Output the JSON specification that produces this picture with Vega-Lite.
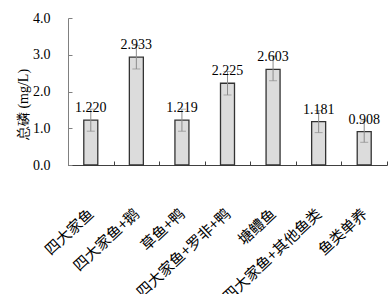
{
  "$schema": "https://vega.github.io/schema/vega-lite/v6.json",
  "width": 319,
  "height": 147,
  "autosize": "none",
  "padding": {"left": 68, "top": 18, "right": 5, "bottom": 129},
  "background": "white",
  "config": {"view": {"stroke": null}, "font": "Times New Roman, Liberation Serif, serif"},
  "data": {"values": [
    {"group": "四大家鱼", "value": 1.220, "lo": 0.92, "hi": 1.52},
    {"group": "四大家鱼+鹅", "value": 2.933, "lo": 2.613, "hi": 3.253},
    {"group": "草鱼+鸭", "value": 1.219, "lo": 0.919, "hi": 1.519},
    {"group": "四大家鱼+罗非+鸭", "value": 2.225, "lo": 1.905, "hi": 2.545},
    {"group": "塘鳢鱼", "value": 2.603, "lo": 2.293, "hi": 2.963},
    {"group": "四大家鱼+其他鱼类", "value": 1.181, "lo": 0.881, "hi": 1.481},
    {"group": "鱼类单养", "value": 0.908, "lo": 0.618, "hi": 1.198}
  ]},
  "encoding": {
    "x": {"field": "group", "type": "nominal", "sort": null,
      "scale": {"paddingInner": 0, "paddingOuter": 0},
      "axis": {"title": null, "tickBand": "extent", "labelAngle": -43, "labelAlign": "right", "labelBaseline": "middle",
        "tickSize": -4, "labelPadding": 50, "domainColor": "#404040", "tickColor": "#404040",
        "labelFont": "Noto Sans CJK SC", "labelFontSize": 15, "labelColor": "black", "labelOverlap": false}},
    "y": {"field": "value", "type": "quantitative", "scale": {"domain": [0, 4], "nice": false, "zero": true},
      "axis": {"title": "总磷 (mg/L)", "values": [0, 1, 2, 3, 4], "format": ".1f", "titleX": -38, "titleY": 86,
        "labelFont": "Times New Roman, Liberation Serif, serif", "labelFontSize": 14, "labelColor": "black",
        "labelOverlap": false, "labelSeparation": 0, "grid": false,
        "tickSize": -4, "labelPadding": 22, "domainColor": "#808080", "tickColor": "#808080",
        "titleFont": "Times New Roman, Liberation Serif, serif", "titleFontSize": 14, "titleFontWeight": "normal", "titleColor": "black"}}
  },
  "layer": [
    {"mark": {"type": "bar", "size": 14, "fill": "#dcdcdc", "stroke": "#333333", "strokeWidth": 1.3}},
    {"mark": {"type": "rule", "color": "#8c8c8c", "strokeWidth": 1},
     "encoding": {"y": {"field": "lo", "type": "quantitative"}, "y2": {"field": "hi"}}},
    {"mark": {"type": "tick", "color": "#8c8c8c", "size": 8, "thickness": 1, "orient": "horizontal"},
     "encoding": {"y": {"field": "lo", "type": "quantitative"}}},
    {"mark": {"type": "tick", "color": "#8c8c8c", "size": 8, "thickness": 1, "orient": "horizontal"},
     "encoding": {"y": {"field": "hi", "type": "quantitative"}}},
    {"mark": {"type": "text", "font": "Times New Roman, Liberation Serif, serif", "fontSize": 14, "dy": -8, "baseline": "alphabetic", "color": "black"},
     "encoding": {"text": {"field": "value", "type": "quantitative", "format": ".3f"}}}
  ]
}
